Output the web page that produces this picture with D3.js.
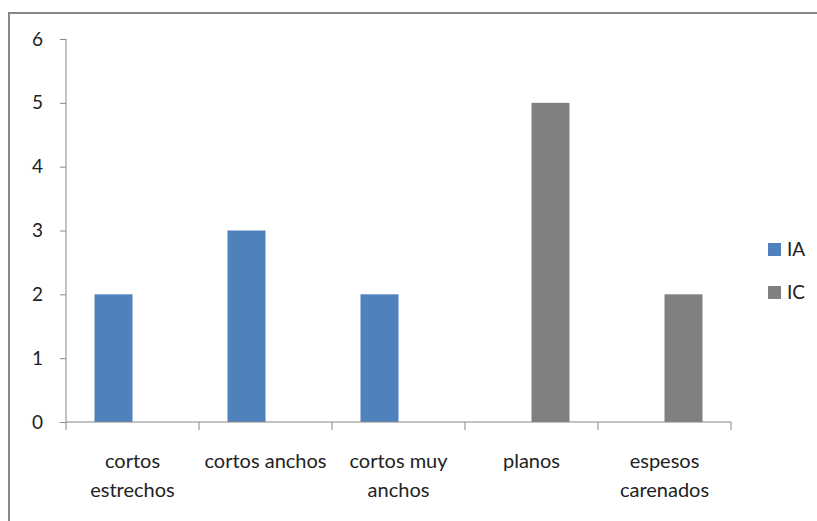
<!DOCTYPE html>
<html>
<head>
<meta charset="utf-8">
<script src="https://cdn.jsdelivr.net/npm/d3@7"></script>
<style>
  body { margin: 0; background: #fff; }
  svg text { font-family: Lato, "Open Sans", sans-serif; fill: #222; }
</style>
</head>
<body>
<div id="chart"></div>
<script>
// data
const categories = ["cortos estrechos", "cortos anchos", "cortos muy anchos", "planos", "espesos carenados"]
const categoryLines = [["cortos", "estrechos"], ["cortos anchos"], ["cortos muy", "anchos"], ["planos"], ["espesos", "carenados"]]
const seriesNames = ["IA", "IC"]
const valuesIA = [2, 3, 2, 0, 0]
const valuesIC = [0, 0, 0, 5, 2]
const yTicks = [0, 1, 2, 3, 4, 5, 6]
const colors = ["#4f81bd", "#808080"]

const W = 817, H = 521
const margin = {top: 39, left: 66, right: 86, bottom: 99}
const width = 731 - margin.left,
    height = 422 - margin.top

const svg = d3.select("#chart")
  .append("svg")
  .attr("width", W)
  .attr("height", H)

// outer chart border
svg.append("rect")
  .attr("x", 9).attr("y", 13)
  .attr("width", W + 10).attr("height", H + 10)
  .attr("fill", "none")
  .attr("stroke", "#878787")
  .attr("stroke-width", 2)

const g = svg.append("g")
  .attr("transform", `translate(${margin.left},${margin.top})`)

const x = d3.scaleBand()
  .domain(categories)
  .range([0, width])
  .padding(0)

const xSub = d3.scaleBand()
  .domain(seriesNames)
  .range([0, x.bandwidth()])
  .paddingInner(0)
  .paddingOuter(0.75)

const y = d3.scaleLinear()
  .domain([0, 6])
  .range([height, 0])

const color = d3.scaleOrdinal().domain(seriesNames).range(colors)

// bars
const rows = []
categories.forEach((c, i) => {
  rows.push({cat: c, s: "IA", v: valuesIA[i]})
  rows.push({cat: c, s: "IC", v: valuesIC[i]})
})

g.selectAll("rect.bar")
  .data(rows.filter(d => d.v > 0))
  .join("rect")
  .attr("class", "bar")
  .attr("x", d => x(d.cat) + xSub(d.s))
  .attr("width", xSub.bandwidth())
  .attr("y", d => y(d.v))
  .attr("height", d => height - y(d.v))
  .attr("fill", d => color(d.s))

// Y axis
const yAxis = g.append("g")
  .call(d3.axisLeft(y).tickValues(yTicks).tickFormat(d3.format("d")).tickSize(6).tickPadding(17))
yAxis.selectAll("path, line").attr("stroke", "#868686")
yAxis.select(".domain").attr("d", `M0,${height}V0`)
yAxis.selectAll("text")
  .style("font-size", "19px")
  .style("fill", "#222")

// X axis: ticks at category boundaries
const xAxis = g.append("g")
  .attr("transform", `translate(0,${height})`)
xAxis.append("line")
  .attr("x1", 0).attr("x2", width)
  .attr("stroke", "#868686")
xAxis.selectAll("line.tick")
  .data(categories.concat(["end"]))
  .join("line")
  .attr("class", "tick")
  .attr("x1", (d, i) => i < categories.length ? x(d) : width)
  .attr("x2", (d, i) => i < categories.length ? x(d) : width)
  .attr("y1", 0).attr("y2", 8)
  .attr("stroke", "#868686")

xAxis.selectAll("text.lbl")
  .data(categories)
  .join("text")
  .attr("class", "lbl")
  .attr("text-anchor", "middle")
  .style("font-size", "20px")
  .attr("transform", d => `translate(${x(d) + x.bandwidth() / 2},46)`)
  .each(function(d, i) {
    const t = d3.select(this)
    categoryLines[i].forEach((line, j) => {
      t.append("tspan").attr("x", 0).attr("y", j * 29).text(line)
    })
  })

// legend
const legend = svg.append("g")
  .attr("transform", "translate(768,243)")
const items = legend.selectAll("g")
  .data(seriesNames)
  .join("g")
  .attr("transform", (d, i) => `translate(0,${i * 43})`)
items.append("rect")
  .attr("width", 13).attr("height", 13)
  .attr("fill", d => color(d))
items.append("text")
  .attr("x", 19).attr("y", 13)
  .style("font-size", "19px")
  .text(d => d)
</script>
</body>
</html>
